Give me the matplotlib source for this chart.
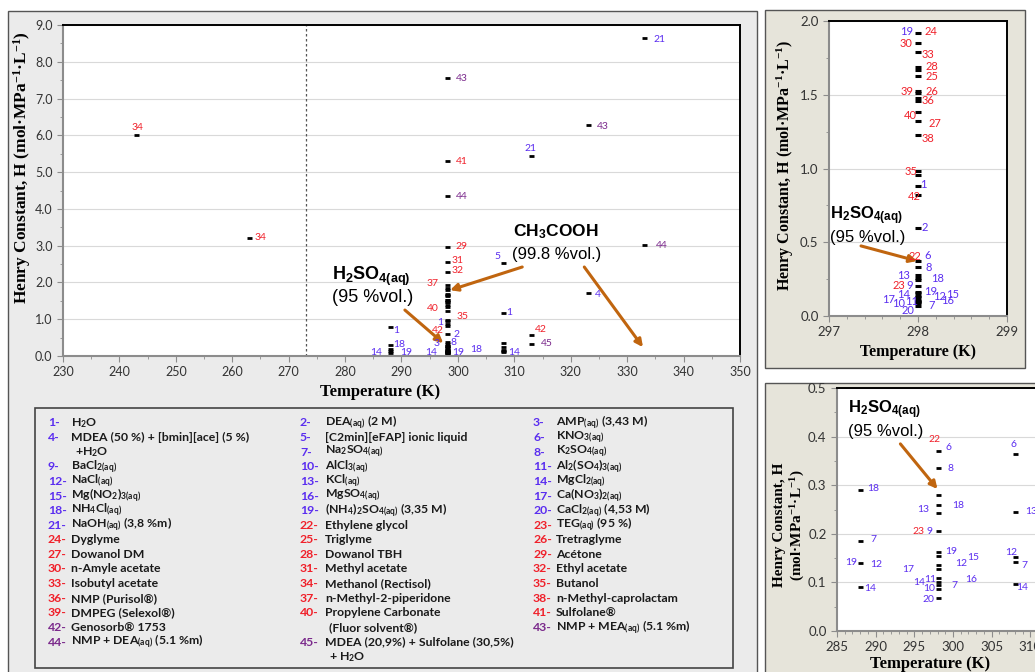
import matplotlib.pyplot as plt
from matplotlib.patches import Rectangle
from matplotlib.ticker import MultipleLocator, FormatStrFormatter

plt.rcParams['font.family'] = ['Lato', 'DejaVu Sans']
plt.rcParams['mathtext.default'] = 'regular'

# Henry constant data: temperature (K) and H (mol/MPa/L)
temp = [243, 263,
        298, 298, 298, 298, 298, 298, 298, 298, 298, 298, 298, 298, 298, 298,
        298, 298, 298, 298, 298, 298, 298, 298, 298, 298, 298, 298, 298, 298,
        298, 298, 298, 298, 298, 298, 298, 298, 298, 298, 298,
        288, 288, 288, 288, 288,
        308, 308, 308, 308, 308, 308, 308,
        313, 313, 313,
        323, 323,
        333, 333]
henry = [6.00, 3.22,
         7.55, 5.30, 4.35, 2.97, 2.55, 2.28, 1.92, 1.85, 1.79, 1.69, 1.665, 1.63,
         1.525, 1.51, 1.48, 1.46, 1.38, 1.32, 1.23, 0.98, 0.955, 0.88, 0.82, 0.60,
         0.37, 0.335, 0.28, 0.26, 0.243, 0.205, 0.163, 0.155, 0.135, 0.127, 0.11,
         0.10, 0.095, 0.087, 0.068,
         0.78, 0.29, 0.185, 0.14, 0.09,
         2.53, 1.17, 0.365, 0.245, 0.152, 0.143, 0.097,
         5.43, 0.57, 0.33,
         6.28, 1.71,
         8.65, 3.03]

# point labels: (text, point index, dx, dy) offsets in pixels
main_labels = [('34', 0, 1, 8), ('34', 1, 11, 0), ('43', 2, 15, 0), ('41', 3, 15, 0),
               ('44', 4, 15, 0), ('29', 5, 15, 0), ('31', 6, 11, 2), ('32', 7, 11, 2),
               ('37', 8, -14, 2), ('40', 18, -14, -3), ('35', 21, 16, 3), ('1', 23, -6, 1),
               ('42', 25, -9, 3), ('2', 25, 10, -1), ('3', 29, -10, 3), ('8', 28, 7, 3),
               ('14', 37, -16, 0), ('19', 37, 12, 0), ('18', 37, 30, 3),
               ('1', 41, 6, -3), ('18', 42, 9, 1), ('19', 44, 16, -2), ('14', 45, -14, 0),
               ('1', 47, 6, 0), ('5', 46, -6, 6), ('14', 52, 11, 0),
               ('21', 53, -1, 8), ('42', 54, 10, 6), ('45', 55, 16, 0),
               ('43', 56, 15, -1), ('4', 57, 10, -1), ('21', 58, 15, -2), ('44', 59, 18, -1)]

top_labels = [('19', 8, -11, 1), ('24', 8, 13, 1), ('30', 9, -12, 0), ('33', 10, 10, -3),
              ('28', 11, 14, 0), ('25', 13, 14, -1), ('39', 14, -11, 0), ('26', 14, 14, 0),
              ('36', 17, 10, 0), ('40', 18, -8, -3), ('27', 19, 17, -2), ('38', 20, 10, -4),
              ('35', 21, -7, 0), ('1', 23, 5, 2), ('42', 24, -4, -1), ('2', 25, 7, 0),
              ('22', 26, -3, 5), ('6', 26, 10, 6), ('8', 27, 11, -1), ('13', 29, -14, 2),
              ('18', 29, 19, -1), ('23', 31, -19, 0), ('9', 31, -8, 0), ('19', 32, 13, 0),
              ('14', 34, -14, 2), ('12', 34, 22, 0), ('15', 34, 35, 2), ('17', 36, -29, 0),
              ('11', 36, -6, -2), ('16', 36, 30, -1), ('10', 38, -19, -2), ('7', 38, 14, -4),
              ('20', 40, -10, -5)]

low_labels = [('18', 42, 13, 2), ('7', 43, 13, 2), ('19', 44, -9, 0), ('12', 44, 16, -2),
              ('14', 45, 10, -1), ('17', 36, -29, 8), ('14', 37, -18, 0), ('11', 37, -7, 3),
              ('10', 39, -8, 0), ('20', 40, -9, -2), ('13', 30, -14, 3), ('22', 26, -3, 12),
              ('6', 26, 11, 4), ('8', 27, 13, 0), ('18', 29, 21, -1), ('23', 31, -19, 0),
              ('9', 31, -8, 0), ('19', 32, 14, 0), ('12', 34, 24, 2), ('15', 35, 36, 12),
              ('16', 37, 34, 3), ('7', 38, 17, -1), ('6', 48, -1, 9), ('13', 49, 16, 0),
              ('12', 50, -4, 5), ('7', 51, 10, -4), ('14', 52, 7, -4)]

legend_cols = [
    [('1-', 'H$_2$O'), ('4-', 'MDEA (50 %) + [bmin][ace] (5 %)'), ('', '+H$_2$O'),
     ('9-', 'BaCl$_{2(aq)}$'), ('12-', 'NaCl$_{(aq)}$'), ('15-', 'Mg(NO$_2$)$_{3(aq)}$'),
     ('18-', 'NH$_4$Cl$_{(aq)}$'), ('21-', 'NaOH$_{(aq)}$ (3,8 %m)'), ('24-', 'Dyglyme'),
     ('27-', 'Dowanol DM'), ('30-', 'n-Amyle acetate'), ('33-', 'Isobutyl acetate'),
     ('36-', 'NMP (Purisol®)'), ('39-', 'DMPEG (Selexol®)'), ('42-', 'Genosorb® 1753'),
     ('44-', 'NMP + DEA$_{(aq)}$ (5.1 %m)')],
    [('2-', 'DEA$_{(aq)}$ (2 M)'), ('5-', '[C2min][eFAP] ionic liquid'),
     ('7-', 'Na$_2$SO$_{4(aq)}$'), ('10-', 'AlCl$_{3(aq)}$'), ('13-', 'KCl$_{(aq)}$'),
     ('16-', 'MgSO$_{4(aq)}$'), ('19-', '(NH$_4$)$_2$SO$_{4(aq)}$ (3,35 M)'),
     ('22-', 'Ethylene glycol'), ('25-', 'Triglyme'), ('28-', 'Dowanol TBH'),
     ('31-', 'Methyl acetate'), ('34-', 'Methanol (Rectisol)'),
     ('37-', 'n-Methyl-2-piperidone'), ('40-', 'Propylene Carbonate'),
     ('', '(Fluor solvent®)'), ('45-', 'MDEA (20,9%) + Sulfolane (30,5%)'), ('', '+ H$_2$O')],
    [('3-', 'AMP$_{(aq)}$ (3,43 M)'), ('6-', 'KNO$_{3(aq)}$'), ('8-', 'K$_2$SO$_{4(aq)}$'),
     ('11-', 'Al$_2$(SO$_4$)$_{3(aq)}$'), ('14-', 'MgCl$_{2(aq)}$'),
     ('17-', 'Ca(NO$_3$)$_{2(aq)}$'), ('20-', 'CaCl$_{2(aq)}$ (4,53 M)'),
     ('23-', 'TEG$_{(aq)}$ (95 %)'), ('26-', 'Tretraglyme'), ('29-', 'Acétone'),
     ('32-', 'Ethyl acetate'), ('35-', 'Butanol'), ('38-', 'n-Methyl-caprolactam'),
     ('41-', 'Sulfolane®'), ('43-', 'NMP + MEA$_{(aq)}$ (5.1 %m)')],
]

BLUE, RED, PURPLE = '#5a2df0', '#f0202a', '#7b2a8c'
ARROW = '#c0650f'
H2SO4 = 'H$_2$SO$_{4(aq)}$'
YLAB = 'Henry Constant, H (mol·MPa$^{-1}$·L$^{-1}$)'

W, HP = 1035, 672
fig = plt.figure(figsize=(W / 100, HP / 100), dpi=100)


def box(x0, y0, x1, y1):
    return [x0 / W, 1 - y1 / HP, (x1 - x0) / W, (y1 - y0) / HP]


def frame(x0, y0, x1, y1, fc, ec='#555555', lw=1.0):
    fig.patches.append(Rectangle(box(x0, y0, x1, y1)[:2], (x1 - x0) / W, (y1 - y0) / HP,
                                 transform=fig.transFigure, fc=fc, ec=ec, lw=lw, zorder=-5))


def ftext(x, y, s, **kw):
    fig.text(x / W, 1 - y / HP, s, **kw)


def chart_color(t):
    n = int(t)
    return BLUE if n <= 21 else (RED if n <= 42 else PURPLE)


def style(ax, fs):
    ax.set_facecolor('white')
    for s in ['top', 'right']:
        ax.spines[s].set_color('black')
        ax.spines[s].set_linewidth(1.4)
    for s in ['left', 'bottom']:
        ax.spines[s].set_color('#8c8c8c')
        ax.spines[s].set_linewidth(1.5)
    ax.grid(axis='y', which='major', color='#d9d9d9', lw=0.8)
    ax.set_axisbelow(True)
    ax.tick_params(which='both', direction='out', colors='#8c8c8c', labelcolor='#333333',
                   labelsize=fs)
    ax.tick_params(which='major', length=4)
    ax.tick_params(which='minor', length=2)


def marks(ax, ms, mew):
    ax.plot(temp, henry, ls='none', marker='_', color='black', ms=ms, mew=mew, zorder=3)


def put_labels(ax, labels, fs):
    for t, i, dx, dy in labels:
        ax.annotate(t, (temp[i], henry[i]), xytext=(dx, dy), textcoords='offset pixels',
                    ha='center', va='center', fontsize=fs, color=chart_color(t), zorder=4)


def arrow(ax, start, end):
    ax.annotate('', xy=end, xytext=start,
                arrowprops=dict(arrowstyle='-|>', color=ARROW, lw=2.2, mutation_scale=11,
                                shrinkA=0, shrinkB=0))


# ---- background panels
frame(8, 11, 757, 680, '#ebebeb')
frame(35, 408, 733, 668, '#ebebeb', ec='#444444', lw=1.2)
frame(765, 10, 1025, 368, '#e6e4da')
frame(765, 383, 1045, 680, '#e6e4da')

# ---- main chart
ax = fig.add_axes(box(63, 25, 740, 356))
style(ax, 9)
marks(ax, 3.6, 2.0)
ax.axvline(273.15, color='#555555', ls=(0, (2, 2)), lw=0.9, zorder=1)
ax.set_xlim(230, 350)
ax.set_ylim(0, 9)
ax.xaxis.set_major_locator(MultipleLocator(10))
ax.xaxis.set_minor_locator(MultipleLocator(5))
ax.yaxis.set_major_locator(MultipleLocator(1))
ax.yaxis.set_minor_locator(MultipleLocator(0.5))
ax.yaxis.set_major_formatter(FormatStrFormatter('%.1f'))
put_labels(ax, main_labels, 7.5)
ax.text(277.7, 2.17, H2SO4, fontsize=13, fontweight='bold', va='center', family='Liberation Sans')
ax.text(277.7, 1.6, '(95 %vol.)', fontsize=13, va='center', family='Liberation Sans')
ax.text(309.8, 3.37, 'CH$_3$COOH', fontsize=12.5, fontweight='bold', va='center', family='Liberation Sans')
ax.text(309.6, 2.77, '(99.8 %vol.)', fontsize=12, va='center', family='Liberation Sans')
arrow(ax, (290.6, 1.25), (297.4, 0.35))
arrow(ax, (311.4, 2.42), (298.6, 1.79))
arrow(ax, (322.4, 2.42), (332.8, 0.24))
ftext(380, 392, 'Temperature (K)', ha='center', va='center', fontsize=12,
      fontweight='bold', family='Liberation Serif')
ftext(22, 168, YLAB, ha='center', va='center', rotation=90, fontsize=12.5,
      fontweight='bold', family='Liberation Serif')

# ---- legend
xs = [(48, 71), (300, 325), (533, 556)]
for (xn, xt), col in zip(xs, legend_cols):
    for k, (num, txt) in enumerate(col):
        y = 423 + k * 14.6
        if num:
            n = int(num[:-1])
            c = BLUE if n <= 21 else (RED if n <= 41 else PURPLE)
            ftext(xn, y, num, fontsize=8.8, fontweight='bold', color=c, va='center')
        ftext(xt + (4 if not num else 0), y, txt, fontsize=8.8, fontweight='bold',
              color='#1a1a1a', va='center')

# ---- top right inset
ax2 = fig.add_axes(box(829, 21, 1007, 316))
style(ax2, 9.5)
marks(ax2, 4.0, 2.2)
ax2.set_xlim(297, 299)
ax2.set_ylim(0, 2)
ax2.xaxis.set_major_locator(MultipleLocator(1))
ax2.xaxis.set_minor_locator(MultipleLocator(0.2))
ax2.yaxis.set_major_locator(MultipleLocator(0.5))
ax2.yaxis.set_minor_locator(MultipleLocator(0.25))
ax2.yaxis.set_major_formatter(FormatStrFormatter('%.1f'))
put_labels(ax2, top_labels, 8)
ax2.text(297.01, 0.68, H2SO4, fontsize=12, fontweight='bold', va='center', family='Liberation Sans')
ax2.text(297.01, 0.53, '(95 %vol.)', fontsize=12, va='center', family='Liberation Sans')
arrow(ax2, (297.36, 0.475), (297.99, 0.373))
ftext(918, 352, 'Temperature (K)', ha='center', va='center', fontsize=11.5,
      fontweight='bold', family='Liberation Serif')
ftext(785, 165, YLAB, ha='center', va='center', rotation=90, fontsize=11.5,
      fontweight='bold', family='Liberation Serif')

# ---- bottom right inset
ax3 = fig.add_axes(box(837, 388, 1038, 631))
style(ax3, 9.5)
ax3.spines['right'].set_visible(False)
marks(ax3, 3.6, 2.0)
ax3.set_xlim(285, 311)
ax3.set_ylim(0, 0.5)
ax3.xaxis.set_major_locator(MultipleLocator(5))
ax3.xaxis.set_minor_locator(MultipleLocator(1))
ax3.yaxis.set_major_locator(MultipleLocator(0.1))
ax3.yaxis.set_minor_locator(MultipleLocator(0.05))
ax3.yaxis.set_major_formatter(FormatStrFormatter('%.1f'))
put_labels(ax3, low_labels, 7.5)
ax3.text(286.4, 0.455, H2SO4, fontsize=12, fontweight='bold', va='center', family='Liberation Sans')
ax3.text(286.4, 0.41, '(95 %vol.)', fontsize=12, va='center', family='Liberation Sans')
arrow(ax3, (293.2, 0.385), (298.0, 0.292))
ftext(930, 664, 'Temperature (K)', ha='center', va='center', fontsize=12,
      fontweight='bold', family='Liberation Serif')
ftext(790, 525, 'Henry Constant, H\n(mol·MPa$^{-1}$·L$^{-1}$)', ha='center', va='center',
      rotation=90, fontsize=11, fontweight='bold', family='Liberation Serif',
      multialignment='center')

fig.savefig('out.png', dpi=100)
